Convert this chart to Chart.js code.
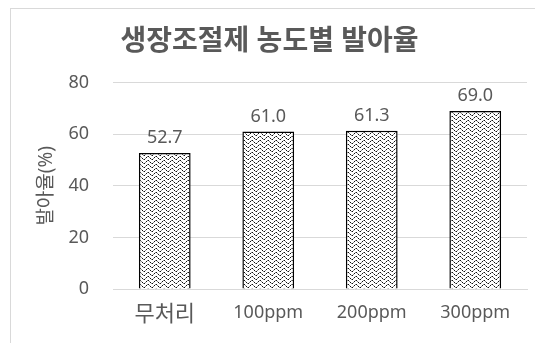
<!DOCTYPE html>
<html>
<head>
<meta charset="utf-8">
<script src="https://cdn.jsdelivr.net/npm/chart.js@4/dist/chart.umd.min.js"></script>
<style>
  html, body { margin: 0; padding: 0; background: #fff; }
  #wrap { position: relative; width: 535px; height: 343px; }
  #frame { position: absolute; left: 10px; top: 8px; right: 0; bottom: 0;
           border-left: 1px solid #d9d9d9; border-top: 1px solid #d9d9d9; }
  canvas { position: absolute; left: 0; top: 0; }
</style>
</head>
<body>
<div id="wrap">
  <div id="frame"></div>
  <canvas id="myBarChart" width="535" height="343"></canvas>
</div>
<script>
// -- data
var categories = ["무처리", "100ppm", "200ppm", "300ppm"];
var germRate = [52.7, 61.0, 61.3, 69.0];
var yTicks = [0, 20, 40, 60, 80];

var FONT = "'Noto Sans', 'Noto Sans CJK KR', sans-serif";
var GRAY = '#595959';

// zigzag fill like the excel pattern
function wavePattern() {
  var c = document.createElement('canvas');
  c.width = 8; c.height = 4;
  var g = c.getContext('2d');
  g.fillStyle = '#fff';
  g.fillRect(0, 0, 8, 4);
  var ys = [3, 2, 1, 0, 0, 1, 2, 3];
  for (var x = 0; x < 8; x++) {
    g.fillStyle = (x % 2 == 0) ? '#111' : '#8a8a8a';
    g.fillRect(x, ys[x], 1, 1);
  }
  return g.createPattern(c, 'repeat');
}

// value labels above bars
var barLabels = {
  id: 'barLabels',
  afterDatasetsDraw: function(chart) {
    var ctx = chart.ctx;
    var meta = chart.getDatasetMeta(0);
    ctx.save();
    ctx.font = '18px ' + FONT;
    ctx.fillStyle = GRAY;
    ctx.textAlign = 'center';
    ctx.textBaseline = 'bottom';
    meta.data.forEach(function(bar, i) {
      ctx.fillText(germRate[i].toFixed(1), bar.x, bar.y - 6);
    });
    ctx.restore();
  }
};

var ctx = document.getElementById("myBarChart");
var myBarChart = new Chart(ctx, {
  type: 'bar',
  data: {
    labels: categories,
    datasets: [{
      data: germRate,
      backgroundColor: wavePattern(),
      borderColor: '#000',
      borderWidth: 1.5,
      barPercentage: 0.5,
      categoryPercentage: 1.0
    }]
  },
  plugins: [barLabels],
  options: {
    responsive: false,
    animation: false,
    layout: { padding: { left: 12, right: 8, top: 0, bottom: 0 } },
    plugins: {
      legend: { display: false },
      tooltip: { enabled: false },
      title: {
        display: true,
        text: '생장조절제 농도별 발아율',
        color: GRAY,
        font: { family: FONT, size: 28, weight: 'bold' },
        padding: { top: 25, bottom: 24 }
      }
    },
    scales: {
      x: {
        grid: { display: false },
        border: { color: '#d9d9d9' },
        ticks: {
          color: GRAY,
          padding: 5,
          maxRotation: 0,
          font: function(c) {
            return { family: FONT, size: c.index === 0 ? 22 : 18 };
          }
        },
        afterFit: function(s) { s.height = 54; }
      },
      y: {
        min: 0,
        max: 80,
        afterBuildTicks: function(s) {
          s.ticks = yTicks.map(function(v) { return { value: v }; });
        },
        grid: { color: '#d9d9d9', drawTicks: false },
        border: { display: false },
        ticks: {
          color: GRAY,
          padding: 24,
          font: { family: FONT, size: 18 }
        },
        title: {
          display: true,
          text: '발아율(%)',
          color: GRAY,
          font: { family: FONT, size: 19 },
          padding: { top: 23, bottom: 0 }
        },
        afterFit: function(s) { s.width = 101; }
      }
    }
  }
});
</script>
</body>
</html>
